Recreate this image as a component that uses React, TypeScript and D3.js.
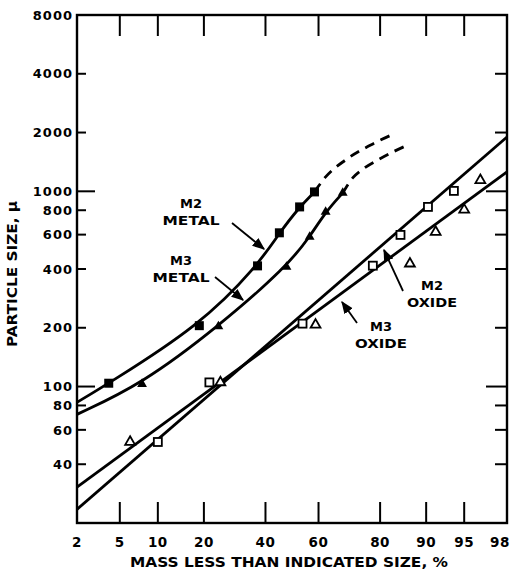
import React from 'react';
import * as d3 from 'd3';

// percent finer (x) and particle size in microns (y)
const m2MetalPts: [number, number][] = [[4.0, 104], [18.8, 205], [37.1, 415], [45.2, 613], [52.9, 832], [58.5, 993]];
const m3MetalPts: [number, number][] = [[7.6, 103], [24.1, 203], [47.9, 410], [56.7, 584], [62.6, 785], [68.6, 981]];
const m2OxidePts: [number, number][] = [[10.0, 52], [21.5, 105], [54, 210], [78, 416], [85, 598], [90.3, 832], [93.9, 1005]];
const m3OxidePts: [number, number][] = [[6.1, 52], [24.7, 105], [58.9, 207], [87, 426], [91.5, 619], [95, 804], [96.4, 1140]];

// fitted curves
const m2MetalSolid: [number, number][] = [[2, 83], ...m2MetalPts];
const m3MetalSolid: [number, number][] = [[2, 72], ...m3MetalPts];
const m2MetalDash: [number, number][] = [[58.5, 993], [62.6, 1185], [69.6, 1449], [77.4, 1727], [83.9, 1988]];
const m3MetalDash: [number, number][] = [[68.6, 981], [71.9, 1171], [75.6, 1318], [79.4, 1448], [83.2, 1589], [86.1, 1707]];
const m2OxideLine: [number, number][] = [[2, 23.5], [98, 1897]];
const m3OxideLine: [number, number][] = [[2, 30.5], [98, 1257]];

const xTicks = [2, 5, 10, 20, 40, 60, 80, 90, 95, 98];
const yTicks = [8000, 4000, 2000, 1000, 800, 600, 400, 200, 100, 80, 60, 40];
const yMajor = [1000, 100];

// inverse normal CDF (Acklam)
function probit(p: number): number {
  const a = [-39.69683028665376, 220.9460984245205, -275.9285104469687, 138.357751867269, -30.66479806614716, 2.506628277459239];
  const b = [-54.47609879822406, 161.5858368580409, -155.6989798598866, 66.80131188771972, -13.28068155288572];
  const c = [-0.007784894002430293, -0.3223964580411365, -2.400758277161838, -2.549671660063785, 4.374664141464968, 2.938163982698783];
  const d = [0.007784695709041462, 0.3224671290700398, 2.445134137142996, 3.754408661907416];
  const pl = 0.02425;
  if (p < pl) {
    const q = Math.sqrt(-2 * Math.log(p));
    return (((((c[0] * q + c[1]) * q + c[2]) * q + c[3]) * q + c[4]) * q + c[5]) / ((((d[0] * q + d[1]) * q + d[2]) * q + d[3]) * q + 1);
  }
  if (p > 1 - pl) {
    const q = Math.sqrt(-2 * Math.log(1 - p));
    return -(((((c[0] * q + c[1]) * q + c[2]) * q + c[3]) * q + c[4]) * q + c[5]) / ((((d[0] * q + d[1]) * q + d[2]) * q + d[3]) * q + 1);
  }
  const q = p - 0.5;
  const r = q * q;
  return (((((a[0] * r + a[1]) * r + a[2]) * r + a[3]) * r + a[4]) * r + a[5]) * q / (((((b[0] * r + b[1]) * r + b[2]) * r + b[3]) * r + b[4]) * r + 1);
}

const W = 515, H = 573;
const left = 77, right = 507, top = 15, bottom = 523;
const font = '"DejaVu Sans", sans-serif';

export default function App() {
  const xz = d3.scaleLinear().domain([probit(0.02), probit(0.98)]).range([left, right]);
  const x = (p: number) => xz(probit(p / 100));
  const y = d3.scaleLog().domain([20, 8000]).range([bottom, top]);

  const smooth = d3.line<[number, number]>().x(d => x(d[0])).y(d => y(d[1])).curve(d3.curveBasis);
  const curve = d3.line<[number, number]>().x(d => x(d[0])).y(d => y(d[1])).curve(d3.curveMonotoneX);
  const straight = d3.line<[number, number]>().x(d => x(d[0])).y(d => y(d[1]));
  const tri = d3.symbol().type(d3.symbolTriangle).size(42)();

  const lineStyle = { fill: 'none', stroke: '#000', strokeWidth: 2.8 };

  return (
    <svg width={W} height={H} style={{ position: 'absolute', left: 0, top: 0, background: '#fff' }}>
      <defs>
        <marker id="ah" viewBox="0 0 10 10" refX="9" refY="5" markerWidth="7" markerHeight="7" orient="auto">
          <path d="M0,1 L10,5 L0,9 Z" fill="#000" />
        </marker>
      </defs>

      {/* frame */}
      <rect x={left} y={top} width={right - left} height={bottom - top} fill="none" stroke="#000" strokeWidth={2.4} />

      {/* x ticks, bottom and top */}
      {xTicks.slice(1, -1).map(t => (
        <g key={'xt' + t}>
          <line x1={x(t)} x2={x(t)} y1={bottom} y2={bottom - 21} stroke="#000" strokeWidth={2} />
          <line x1={x(t)} x2={x(t)} y1={top} y2={top + 21} stroke="#000" strokeWidth={2} />
        </g>
      ))}
      {xTicks.map(t => (
        <text key={'xl' + t} x={Math.min(x(t), 500)} y={547} textAnchor="middle" fontFamily={font} fontWeight="bold" fontSize={13.5} letterSpacing={0.5}>{t}</text>
      ))}

      {/* y ticks, left and right */}
      {yTicks.map(t => {
        const len = yMajor.includes(t) ? 18 : 9;
        return (
          <g key={'yt' + t}>
            {t !== 8000 && <line x1={left} x2={left + len} y1={y(t)} y2={y(t)} stroke="#000" strokeWidth={2} />}
            {t !== 8000 && <line x1={right} x2={right - len - 3} y1={y(t)} y2={y(t)} stroke="#000" strokeWidth={2} />}
            <text x={73} y={y(t)} dy="0.36em" textAnchor="end" fontFamily={font} fontWeight="bold" fontSize={13} letterSpacing={1}>{t}</text>
          </g>
        );
      })}

      {/* axis titles */}
      <text x={289} y={567} textAnchor="middle" fontFamily={font} fontWeight="bold" fontSize={13.5} textLength={318} lengthAdjust="spacingAndGlyphs">MASS LESS THAN INDICATED SIZE, %</text>
      <text transform="translate(17,274) rotate(-90)" textAnchor="middle" fontFamily={font} fontWeight="bold" fontSize={13.5} textLength={146} lengthAdjust="spacingAndGlyphs">PARTICLE SIZE, μ</text>

      {/* curves */}
      <path d={smooth(m2MetalSolid) || ''} style={lineStyle} />
      <path d={smooth(m3MetalSolid) || ''} style={lineStyle} />
      <path d={curve(m2MetalDash) || ''} style={{ ...lineStyle, strokeDasharray: '10 7' }} />
      <path d={curve(m3MetalDash) || ''} style={{ ...lineStyle, strokeDasharray: '10 7' }} />
      <path d={straight(m2OxideLine) || ''} style={lineStyle} />
      <path d={straight(m3OxideLine) || ''} style={lineStyle} />

      {/* markers */}
      {m2MetalPts.map((d, i) => (
        <rect key={'a' + i} x={x(d[0]) - 4.5} y={y(d[1]) - 4.5} width={9} height={9} fill="#000" />
      ))}
      {m3MetalPts.map((d, i) => (
        <path key={'b' + i} d={tri || ''} transform={`translate(${x(d[0])},${y(d[1])})`} fill="#000" />
      ))}
      {m2OxidePts.map((d, i) => (
        <rect key={'c' + i} x={x(d[0]) - 4} y={y(d[1]) - 4} width={8} height={8} fill="#fff" stroke="#000" strokeWidth={1.8} />
      ))}
      {m3OxidePts.map((d, i) => (
        <path key={'d' + i} d={tri || ''} transform={`translate(${x(d[0])},${y(d[1])})`} fill="#fff" stroke="#000" strokeWidth={1.8} />
      ))}

      {/* annotations */}
      <g fontFamily={font} fontWeight="bold" fontSize={13} textAnchor="middle">
        <text x={191} y={208}>M2</text>
        <text x={191} y={225} textLength={57} lengthAdjust="spacingAndGlyphs">METAL</text>
        <text x={181} y={265}>M3</text>
        <text x={181} y={282} textLength={57} lengthAdjust="spacingAndGlyphs">METAL</text>
        <text x={432} y={290}>M2</text>
        <text x={432} y={307} textLength={50} lengthAdjust="spacingAndGlyphs">OXIDE</text>
        <text x={381} y={331}>M3</text>
        <text x={381} y={348} textLength={52} lengthAdjust="spacingAndGlyphs">OXIDE</text>
      </g>
      <g stroke="#000" strokeWidth={1.8} markerEnd="url(#ah)">
        <line x1={232} y1={223} x2={264} y2={249} />
        <line x1={215} y1={277} x2={243} y2={300} />
        <line x1={403} y1={291} x2={384} y2={250} />
        <line x1={357} y1={323} x2={342} y2={302} />
      </g>
    </svg>
  );
}
